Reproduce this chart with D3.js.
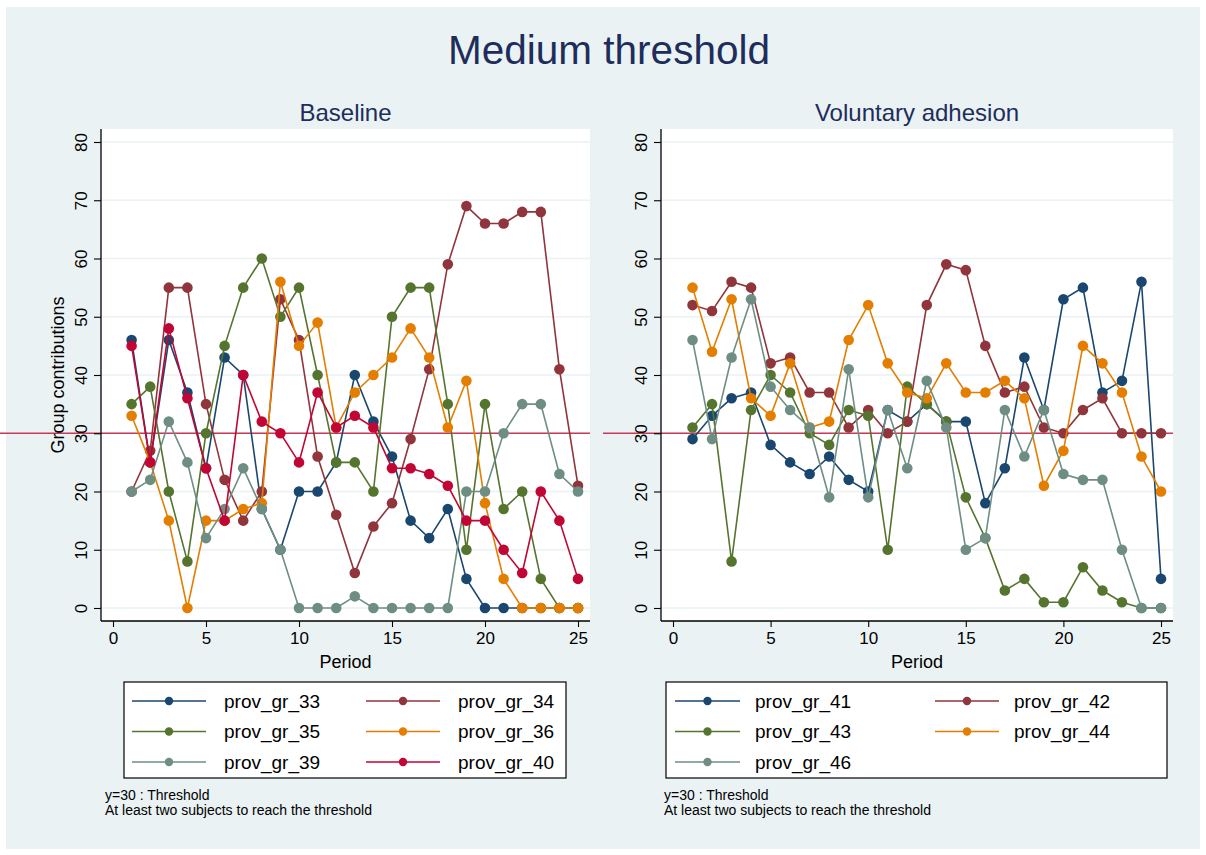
<!DOCTYPE html>
<html>
<head>
<meta charset="utf-8">
<script src="https://cdn.jsdelivr.net/npm/d3@7"></script>
<style>
  html, body { margin: 0; padding: 0; background: #ffffff; }
  svg { display: block; font-family: "Liberation Sans", Arial, Helvetica, sans-serif; }
</style>
</head>
<body>
<svg id="chart" width="1206" height="855"></svg>
<script>
// ---------------- data ----------------
const periods = d3.range(1, 26);
const yTicks = [0, 10, 20, 30, 40, 50, 60, 70, 80];
const xTicks = [0, 5, 10, 15, 20, 25];
const threshold = 30;

const mainTitle = "Medium threshold";
const panelTitles = ["Baseline", "Voluntary adhesion"];
const noteLines = ["y=30 : Threshold", "At least two subjects to reach the threshold"];

// Baseline panel
const baselineNames = ["prov_gr_33", "prov_gr_34", "prov_gr_35", "prov_gr_36", "prov_gr_39", "prov_gr_40"];
const prov_gr_33 = [46,25,46,37,24,43,40,17,10,20,20,25,40,32,26,15,12,17,5,0,0,0,0,0,0];
const prov_gr_34 = [20,27,55,55,35,22,15,20,53,46,26,16,6,14,18,29,41,59,69,66,66,68,68,41,21];
const prov_gr_35 = [35,38,20,8,30,45,55,60,50,55,40,25,25,20,50,55,55,35,10,35,17,20,5,0,0];
const prov_gr_36 = [33,25,15,0,15,15,17,18,56,45,49,31,37,40,43,48,43,31,39,18,5,0,0,0,0];
const prov_gr_39 = [20,22,32,25,12,17,24,17,10,0,0,0,2,0,0,0,0,0,20,20,30,35,35,23,20];
const prov_gr_40 = [45,25,48,36,24,15,40,32,30,25,37,31,33,31,24,24,23,21,15,15,10,6,20,15,5];

// Voluntary adhesion panel
const adhesionNames = ["prov_gr_41", "prov_gr_42", "prov_gr_43", "prov_gr_44", "prov_gr_46"];
const prov_gr_41 = [29,33,36,37,28,25,23,26,22,20,34,32,35,32,32,18,24,43,34,53,55,37,39,56,5];
const prov_gr_42 = [52,51,56,55,42,43,37,37,31,34,30,32,52,59,58,45,37,38,31,30,34,36,30,30,30];
const prov_gr_43 = [31,35,8,34,40,37,30,28,34,33,10,38,35,32,19,12,3,5,1,1,7,3,1,0,0];
const prov_gr_44 = [55,44,53,36,33,42,31,32,46,52,42,37,36,42,37,37,39,36,21,27,45,42,37,26,20];
const prov_gr_46 = [46,29,43,53,38,34,31,19,41,19,34,24,39,31,10,12,34,26,34,23,22,22,10,0,0];

const baselineSeries = [prov_gr_33, prov_gr_34, prov_gr_35, prov_gr_36, prov_gr_39, prov_gr_40];
const adhesionSeries = [prov_gr_41, prov_gr_42, prov_gr_43, prov_gr_44, prov_gr_46];

const baselineColors = ["#1a476f", "#90353b", "#55752f", "#e37e00", "#6e8e84", "#c10534"];
const adhesionColors = ["#1a476f", "#90353b", "#55752f", "#e37e00", "#6e8e84"];

// ---------------- drawing ----------------
const svg = d3.select("#chart");
const FONT = '"Liberation Sans", Arial, Helvetica, sans-serif';
const bg = "#eaf2f3";
const titleColor = "#1e2d5b";

svg.append("rect").attr("x", 6).attr("y", 7).attr("width", 1194).attr("height", 842).attr("fill", bg);

svg.append("text").attr("x", 609).attr("y", 64).attr("text-anchor", "middle")
  .attr("font-size", 40.5).attr("fill", titleColor).text(mainTitle);

function drawPanel(cfg) {
  const g = svg.append("g");
  const x = d3.scaleLinear().domain([0, 25]).range([cfg.left + 12, cfg.right - 12]);
  const y = d3.scaleLinear().domain([0, 80]).range([608, 142]);
  const top = 129, bottom = 621;

  g.append("rect").attr("x", cfg.left).attr("y", top)
    .attr("width", cfg.right - cfg.left).attr("height", bottom - top).attr("fill", "#ffffff");

  // gridlines
  g.append("g").selectAll("line").data(yTicks).join("line")
    .attr("x1", cfg.left).attr("x2", cfg.right)
    .attr("y1", d => y(d)).attr("y2", d => y(d))
    .attr("stroke", bg).attr("stroke-width", 1.5);

  // threshold line
  g.append("line").attr("x1", cfg.lineStart).attr("x2", cfg.right)
    .attr("y1", y(threshold)).attr("y2", y(threshold))
    .attr("stroke", "#c8385a").attr("stroke-width", 1.6);

  // y axis
  const yAxis = d3.axisLeft(y).tickValues(yTicks).tickSize(7).tickPadding(6);
  const ya = g.append("g").attr("transform", `translate(${cfg.left},0)`).call(yAxis);
  ya.select(".domain").attr("d", `M0,${top}V${bottom}`).attr("stroke", "#000").attr("stroke-width", 1.3);
  ya.selectAll(".tick line").attr("stroke", "#000").attr("stroke-width", 1.1);
  ya.selectAll(".tick text")
    .attr("font-family", FONT).attr("font-size", 17).attr("fill", "#000")
    .attr("x", 0).attr("dy", null)
    .attr("text-anchor", "middle")
    .attr("transform", "translate(-20,0) rotate(-90)")
    .attr("dominant-baseline", "central");

  // x axis
  const xAxis = d3.axisBottom(x).tickValues(xTicks).tickSize(6).tickPadding(5).tickFormat(d3.format("d"));
  const xa = g.append("g").attr("transform", `translate(0,${bottom})`).call(xAxis);
  xa.select(".domain").attr("d", `M${cfg.left},0H${cfg.right}`).attr("stroke", "#000").attr("stroke-width", 1.3);
  xa.selectAll(".tick line").attr("stroke", "#000").attr("stroke-width", 1.1);
  xa.selectAll(".tick text").attr("font-family", FONT).attr("font-size", 17).attr("fill", "#000");

  g.append("text").attr("x", (cfg.left + cfg.right) / 2).attr("y", 668)
    .attr("text-anchor", "middle").attr("font-size", 18).attr("fill", "#000").text("Period");

  if (cfg.yTitle) {
    g.append("text").attr("transform", `translate(64,${y(40)}) rotate(-90)`)
      .attr("text-anchor", "middle").attr("font-size", 18).attr("fill", "#000").text(cfg.yTitle);
  }

  g.append("text").attr("x", (cfg.left + cfg.right) / 2).attr("y", 121)
    .attr("text-anchor", "middle").attr("font-size", 24).attr("fill", titleColor).text(cfg.title);

  // series
  const line = d3.line().x((d, i) => x(periods[i])).y(d => y(d));
  cfg.series.forEach((vals, k) => {
    const sg = g.append("g");
    sg.append("path").attr("d", line(vals)).attr("fill", "none")
      .attr("stroke", cfg.colors[k]).attr("stroke-width", 1.6);
    sg.selectAll("circle").data(vals).join("circle")
      .attr("cx", (d, i) => x(periods[i])).attr("cy", d => y(d)).attr("r", 5.3)
      .attr("fill", cfg.colors[k]);
  });

  // legend
  const L = cfg.legend;
  g.append("rect").attr("x", L.x0).attr("y", 682).attr("width", L.x1 - L.x0).attr("height", 96)
    .attr("fill", "#fff").attr("stroke", "#000").attr("stroke-width", 1.2);
  const rowsY = [701, 731.5, 762];
  cfg.names.forEach((name, k) => {
    const col = k % 2, row = Math.floor(k / 2);
    const c = L.cols[col];
    const yy = rowsY[row];
    g.append("line").attr("x1", c.l1).attr("x2", c.l2).attr("y1", yy).attr("y2", yy)
      .attr("stroke", cfg.colors[k]).attr("stroke-width", 1.6);
    g.append("circle").attr("cx", (c.l1 + c.l2) / 2).attr("cy", yy).attr("r", 4.2).attr("fill", cfg.colors[k]);
    g.append("text").attr("x", c.tx).attr("y", yy).attr("dy", "0.35em")
      .attr("font-size", 19).attr("fill", "#000").text(name);
  });

  // notes
  noteLines.forEach((t, i) => {
    g.append("text").attr("x", L.noteX).attr("y", 800 + i * 14.5)
      .attr("font-size", 14).attr("fill", "#000").text(t);
  });
}

drawPanel({
  left: 101, right: 590, lineStart: 0, title: panelTitles[0], yTitle: "Group contributions",
  series: baselineSeries, colors: baselineColors, names: baselineNames,
  legend: { x0: 124, x1: 566, noteX: 105,
    cols: [{ l1: 132, l2: 206, tx: 224 }, { l1: 366, l2: 440, tx: 458 }] }
});

drawPanel({
  left: 661, right: 1173, lineStart: 603, title: panelTitles[1], yTitle: null,
  series: adhesionSeries, colors: adhesionColors, names: adhesionNames,
  legend: { x0: 666, x1: 1167, noteX: 664,
    cols: [{ l1: 675, l2: 740, tx: 755 }, { l1: 935, l2: 999, tx: 1014 }] }
});
</script>
</body>
</html>
